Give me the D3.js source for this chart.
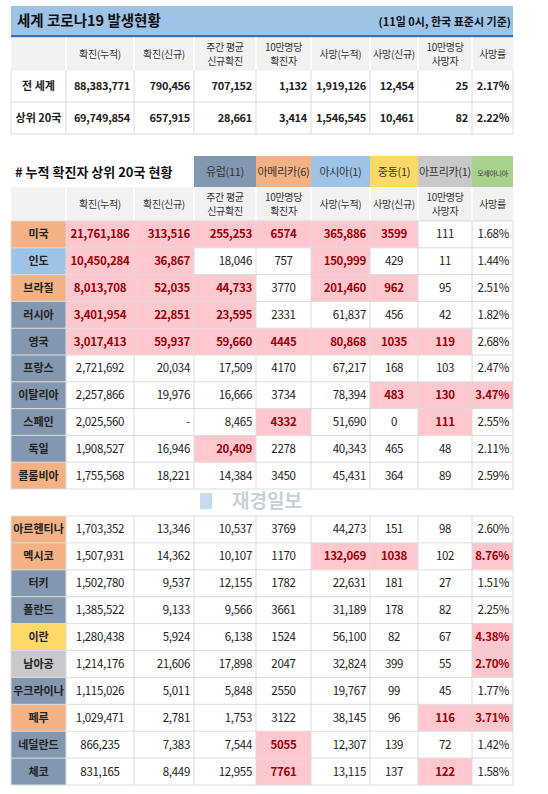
<!DOCTYPE html>
<html><head><meta charset="utf-8">
<script src="https://cdn.jsdelivr.net/npm/d3@7"></script>
<style>body{margin:0;background:#fff}text{font-family:"Noto Sans CJK KR","Noto Sans",sans-serif}</style>
</head><body><svg id="c" width="548" height="794"></svg>
<script>
const columns=["확진(누적)","확진(신규)","주간 평균\n신규확진","10만명당\n확진자","사망(누적)","사망(신규)","10만명당\n사망자","사망률"];
const summaryRows=["전 세계","상위 20국"];
const summaryValues=[
["88,383,771","790,456","707,152","1,132","1,919,126","12,454","25","2.17%"],
["69,749,854","657,915","28,661","3,414","1,546,545","10,461","82","2.22%"]];
const regions=["유럽(11)","아메리카(6)","아시아(1)","중동(1)","아프리카(1)","오세아니아"];
const regionColors=["#8497b0","#f4b183","#9dc3e6","#ffd966","#c9c9c9","#a9d18e"];
const countries=["미국","인도","브라질","러시아","영국","프랑스","이탈리아","스페인","독일","콜롬비아","아르헨티나","멕시코","터키","폴란드","이란","남아공","우크라이나","페루","네덜란드","체코"];
const countryRegion=[1,2,1,0,0,0,0,0,0,1,1,1,0,0,3,4,0,1,0,0];
const values=[
["21,761,186","313,516","255,253","6574","365,886","3599","111","1.68%"],
["10,450,284","36,867","18,046","757","150,999","429","11","1.44%"],
["8,013,708","52,035","44,733","3770","201,460","962","95","2.51%"],
["3,401,954","22,851","23,595","2331","61,837","456","42","1.82%"],
["3,017,413","59,937","59,660","4445","80,868","1035","119","2.68%"],
["2,721,692","20,034","17,509","4170","67,217","168","103","2.47%"],
["2,257,866","19,976","16,666","3734","78,394","483","130","3.47%"],
["2,025,560","-","8,465","4332","51,690","0","111","2.55%"],
["1,908,527","16,946","20,409","2278","40,343","465","48","2.11%"],
["1,755,568","18,221","14,384","3450","45,431","364","89","2.59%"],
["1,703,352","13,346","10,537","3769","44,273","151","98","2.60%"],
["1,507,931","14,362","10,107","1170","132,069","1038","102","8.76%"],
["1,502,780","9,537","12,155","1782","22,631","181","27","1.51%"],
["1,385,522","9,133","9,566","3661","31,189","178","82","2.25%"],
["1,280,438","5,924","6,138","1524","56,100","82","67","4.38%"],
["1,214,176","21,606","17,898","2047","32,824","399","55","2.70%"],
["1,115,026","5,011","5,848","2550","19,767","99","45","1.77%"],
["1,029,471","2,781","1,753","3122","38,145","96","116","3.71%"],
["866,235","7,383","7,544","5055","12,307","139","72","1.42%"],
["831,165","8,449","12,955","7761","13,115","137","122","1.58%"]];
const highlights=[[0,1,2,3,4,5],[0,1,4],[0,1,2,4,5],[0,1,2],[0,1,2,3,4,5,6],[],[5,6,7],[3,6],[2],[],[],[4,5,7],[],[],[7],[7],[],[6,7],[3],[3,6]];

const svg=d3.select("#c");
const colEdges=[11,66,134,194,256,311,370,418,472,513];
const colX=i=>colEdges[i], colW=i=>colEdges[i+1]-colEdges[i];
const align=["middle","end","end","middle","end","middle","middle","end"];
const grid="#dcdcdc";

function cellText(g,i,txt,y,h,anc,opt={}){
  const x0=colX(i+1),w=colW(i+1);
  const x=anc==="middle"?x0+w/2:anc==="end"?x0+w-4:x0+4;
  const lines=txt.split("\n");
  lines.forEach((l,k)=>{const t=g.append("text").attr("x",x).attr("y",y+h/2+(k-(lines.length-1)/2)*14+4)
    .attr("text-anchor",anc).attr("font-size",opt.size||11).attr("font-weight",opt.bold?700:400)
    .attr("letter-spacing",opt.ls||0).attr("fill",opt.fill||"#222").text(l);
    const maxW=w-5; if(t.node().getComputedTextLength()>maxW) t.attr("textLength",maxW).attr("lengthAdjust","spacingAndGlyphs");});
}
function header(y,h){
  svg.append("rect").attr("x",11).attr("y",y).attr("width",502).attr("height",h).attr("fill","#f2f2f2");
  columns.forEach((c,i)=>{
    cellText(svg,i,c,y,h,"middle",{size:10,fill:"#333",ls:-0.3});
    svg.append("line").attr("x1",colX(i+1)).attr("x2",colX(i+1)).attr("y1",y).attr("y2",y+h).attr("stroke","#fff").attr("stroke-width",1.5);
  });
}
svg.append("rect").attr("x",11).attr("y",6).attr("width",502).attr("height",29).attr("fill","#9dc3e6");
svg.append("rect").attr("x",11).attr("y",35).attr("width",502).attr("height",2.5).attr("fill","#2e75b6");
svg.append("text").attr("x",17).attr("y",26).attr("font-size",14.5).attr("font-weight",700).attr("fill","#111").text("세계 코로나19 발생현황");
svg.append("text").attr("x",511).attr("y",26).attr("text-anchor","end").attr("font-size",11).attr("font-weight",700).attr("fill","#111").text("(11일 0시, 한국 표준시 기준)");
header(37.5,33);
const yS=d3.scaleBand().domain(summaryRows).range([70,134]);
summaryRows.forEach((r,ri)=>{
  const y=yS(r),h=yS.bandwidth();
  svg.append("text").attr("x",colX(0)+colW(0)/2).attr("y",y+h/2+4).attr("text-anchor","middle").attr("font-size",11).attr("font-weight",700).attr("fill","#222").text(r);
  summaryValues[ri].forEach((v,i)=>cellText(svg,i,v,y,h,"end",{bold:true,size:11,ls:-0.3}));
  svg.append("line").attr("x1",11).attr("x2",513).attr("y1",y+h).attr("y2",y+h).attr("stroke",grid);
});
colEdges.forEach(x=>svg.append("line").attr("x1",x).attr("x2",x).attr("y1",70).attr("y2",134).attr("stroke",grid));
svg.append("text").attr("x",15).attr("y",177).attr("font-size",13).attr("font-weight",700).attr("fill","#111").text("# 누적 확진자 상위 20국 현황");
regions.forEach((r,i)=>{
  const x0=colX(i+3),w=colW(i+3);
  svg.append("rect").attr("x",x0).attr("y",156).attr("width",w).attr("height",31).attr("fill",regionColors[i]);
  const t=svg.append("text").attr("x",x0+w/2).attr("y",176).attr("text-anchor","middle").attr("font-size",i===5?7:11).attr("font-weight",400).attr("letter-spacing",-0.3).attr("fill","#333").text(r);
  if(t.node().getComputedTextLength()>w-2) t.attr("textLength",w-2).attr("lengthAdjust","spacingAndGlyphs");
});
header(187,34);
const block1=countries.slice(0,10), block2=countries.slice(10);
const y1=d3.scaleBand().domain(block1).range([221,489]);
const y2=d3.scaleBand().domain(block2).range([516,785]);
countries.forEach((c,ci)=>{
  const ys=ci<10?y1:y2, y=ys(c), h=ys.bandwidth();
  svg.append("rect").attr("x",11).attr("y",y).attr("width",colW(0)).attr("height",h).attr("fill",regionColors[countryRegion[ci]]);
  const t=svg.append("text").attr("x",colX(0)+colW(0)/2).attr("y",y+h/2+4).attr("text-anchor","middle").attr("font-size",11).attr("font-weight",700).attr("fill","#222").text(c);
  if(t.node().getComputedTextLength()>colW(0)-2) t.attr("textLength",colW(0)-2).attr("lengthAdjust","spacingAndGlyphs");
  values[ci].forEach((v,i)=>{
    const hi=highlights[ci].includes(i);
    if(hi) svg.append("rect").attr("x",colX(i+1)).attr("y",y).attr("width",colW(i+1)).attr("height",h).attr("fill","#ffc7ce");
    cellText(svg,i,v,y,h,align[i],{size:11.5,bold:hi,fill:hi?"#9c0006":"#222",ls:-0.3});
  });
});
[[221,489],[516,785]].forEach(([a,b],bi)=>{
  const ys=bi?y2:y1;
  ys.domain().forEach(c=>svg.append("line").attr("x1",11).attr("x2",513).attr("y1",ys(c)+ys.bandwidth()).attr("y2",ys(c)+ys.bandwidth()).attr("stroke",grid));
  svg.append("line").attr("x1",11).attr("x2",513).attr("y1",a).attr("y2",a).attr("stroke",grid);
  colEdges.forEach(x=>svg.append("line").attr("x1",x).attr("x2",x).attr("y1",a).attr("y2",b).attr("stroke",grid));
});
svg.append("rect").attr("x",200).attr("y",493).attr("width",12).attr("height",16).attr("fill","#9dc3e6").attr("opacity",0.6);
svg.append("text").attr("x",232).attr("y",508).attr("font-size",19).attr("font-weight",700).attr("fill","#c8d0da").text("재경일보");
</script></body></html>
